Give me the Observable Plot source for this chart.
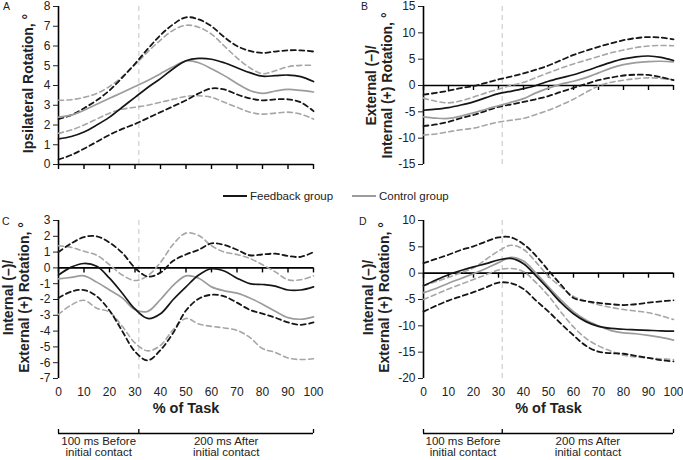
<!DOCTYPE html>
<html><head><meta charset="utf-8">
<script src="https://cdn.jsdelivr.net/npm/d3@7"></script>
<script src="https://cdn.jsdelivr.net/npm/@observablehq/plot@0.6"></script>
<style>
body{margin:0;background:#fff;}
#root{position:relative;width:683px;height:460px;font-family:"Liberation Sans",Arial,sans-serif;color:#222;overflow:hidden}
.pan{position:absolute}
.letter{position:absolute;font-size:10.5px;line-height:1}
.leg{position:absolute;top:189px;font-size:11.5px;display:flex;align-items:center;white-space:nowrap;line-height:14px}
.sw{display:inline-block;width:24px;height:0;border-top:2px solid;margin-right:3px}
</style></head><body><div id="root"></div>
<script>
// % of task sample positions
const pct = [0,5,10,15,20,25,30,35,40,45,50,55,60,65,70,75,80,85,90,95,100];
const xTicks = [0,10,20,30,40,50,60,70,80,90,100];
const contactPct = [31.5];
const phaseBounds = [0, 31.5, 100];
const phaseLabels = ["100 ms Before\ninitial contact", "200 ms After\ninitial contact"];
const groupNames = ["Feedback group", "Control group"];
const panelLetters = ["A", "B", "C", "D"];

// Panel A: Ipsilateral rotation
const aFeedMean  = [1.3,1.42,1.65,2.0,2.4,2.9,3.4,3.9,4.35,4.85,5.25,5.37,5.33,5.15,4.9,4.65,4.47,4.5,4.53,4.45,4.2];
const aFeedUpper = [2.3,2.5,2.85,3.25,3.75,4.4,5.1,5.85,6.55,7.1,7.45,7.35,7.0,6.45,6.0,5.75,5.65,5.72,5.78,5.78,5.72];
const aFeedLower = [0.25,0.48,0.8,1.15,1.5,1.8,2.05,2.35,2.65,2.95,3.25,3.6,3.85,3.8,3.55,3.35,3.25,3.3,3.3,3.15,2.7];
const aCtrlMean  = [2.4,2.5,2.75,3.05,3.35,3.65,3.95,4.25,4.6,4.95,5.25,5.15,4.85,4.5,4.1,3.75,3.6,3.72,3.8,3.75,3.67];
const aCtrlUpper = [3.25,3.28,3.4,3.6,3.95,4.45,5.05,5.7,6.3,6.8,7.05,6.95,6.6,6.0,5.4,4.9,4.6,4.75,4.95,5.02,5.02];
const aCtrlLower = [1.58,1.75,2.0,2.3,2.6,2.8,2.9,3.0,3.15,3.3,3.45,3.48,3.4,3.15,2.9,2.65,2.55,2.6,2.65,2.55,2.3];

// Panel B: External (-)/Internal (+) rotation
const bFeedMean  = [-4.7,-4.5,-4.2,-3.7,-3.1,-2.3,-1.55,-1.1,-0.6,0.0,0.8,1.45,2.05,2.8,3.6,4.4,5.05,5.45,5.6,5.35,4.75];
const bFeedUpper = [-1.75,-1.4,-1.0,-0.5,-0.1,0.5,1.15,1.7,2.3,3.0,3.8,4.8,5.8,6.6,7.35,8.0,8.6,9.0,9.2,9.1,8.75];
const bFeedLower = [-7.7,-7.4,-6.9,-6.2,-5.6,-4.8,-4.05,-3.6,-3.1,-2.6,-2.0,-1.2,-0.45,0.3,1.0,1.5,1.9,2.05,2.0,1.6,1.0];
const bCtrlMean  = [-5.95,-6.2,-6.25,-5.8,-5.2,-4.5,-3.85,-3.2,-2.5,-1.4,-0.5,0.25,0.8,1.5,2.4,3.3,3.95,4.35,4.55,4.6,4.5];
const bCtrlUpper = [-2.4,-3.0,-3.3,-2.9,-2.2,-1.4,-0.7,0.0,0.6,1.5,2.4,3.3,4.1,4.8,5.5,6.2,6.75,7.2,7.5,7.6,7.55];
const bCtrlLower = [-9.4,-9.2,-8.8,-8.4,-8.1,-7.5,-6.95,-6.6,-6.25,-5.5,-4.7,-3.7,-2.6,-1.3,-0.1,0.6,1.0,1.3,1.45,1.35,1.1];

// Panel C: Internal (-)/External (+) rotation
const cFeedMean  = [-0.45,0.05,0.28,0.1,-0.65,-1.6,-2.6,-3.2,-2.9,-2.0,-1.2,-0.45,-0.05,-0.2,-0.65,-1.0,-1.05,-1.15,-1.4,-1.4,-1.2];
const cFeedUpper = [1.0,1.55,1.95,2.0,1.6,0.95,0.0,-0.55,-0.3,0.45,0.85,1.15,1.55,1.45,1.15,0.8,0.85,0.9,0.75,0.7,1.0];
const cFeedLower = [-1.9,-1.5,-1.4,-1.8,-2.7,-4.0,-5.3,-5.85,-5.2,-4.1,-2.7,-1.95,-1.7,-1.8,-2.2,-2.65,-2.9,-3.15,-3.45,-3.6,-3.45];
const cCtrlMean  = [-0.7,-0.6,-0.5,-0.9,-1.4,-1.9,-2.65,-2.75,-2.0,-1.1,-0.5,-0.65,-1.2,-1.45,-1.6,-1.9,-2.3,-2.75,-3.15,-3.25,-3.1];
const cCtrlUpper = [1.4,1.3,1.05,0.8,0.2,-0.45,-0.8,-0.5,0.35,1.5,2.2,2.05,1.4,1.0,0.85,0.6,0.2,-0.25,-0.75,-0.75,-0.5];
const cCtrlLower = [-2.95,-2.35,-2.05,-2.55,-2.8,-3.7,-4.75,-5.25,-4.9,-3.9,-3.2,-3.55,-3.7,-3.8,-3.95,-4.4,-5.1,-5.35,-5.7,-5.8,-5.75];

// Panel D: Internal (-)/External (+) rotation
const dFeedMean  = [-2.4,-1.3,-0.3,0.5,1.2,1.8,2.5,2.8,1.8,-0.5,-3.0,-5.6,-7.7,-9.2,-10.1,-10.5,-10.65,-10.75,-10.85,-10.95,-11.0];
const dFeedUpper = [1.9,2.7,3.5,4.4,5.1,6.0,6.8,6.8,5.5,3.3,0.5,-2.2,-4.7,-5.3,-5.65,-5.9,-6.05,-5.9,-5.6,-5.35,-5.15];
const dFeedLower = [-7.3,-6.2,-5.2,-4.4,-3.6,-2.7,-1.8,-1.9,-3.0,-5.2,-7.3,-9.6,-11.8,-13.8,-14.9,-15.2,-15.3,-15.7,-16.1,-16.5,-16.75];
const dCtrlMean  = [-3.7,-2.9,-1.9,-1.0,-0.1,0.9,2.0,3.0,2.3,0.0,-2.6,-5.1,-7.3,-8.9,-10.0,-10.9,-11.35,-11.5,-11.8,-12.2,-12.7];
const dCtrlUpper = [-2.4,-1.6,-0.8,0.1,1.0,2.6,4.2,5.3,4.5,2.1,-0.6,-2.6,-4.4,-5.3,-6.0,-6.5,-6.9,-7.2,-7.5,-8.1,-8.8];
const dCtrlLower = [-5.0,-4.0,-3.0,-2.1,-1.2,-0.3,0.6,0.9,0.3,-1.8,-4.3,-7.4,-10.2,-12.4,-13.8,-14.8,-15.6,-15.9,-16.1,-16.25,-16.4];

// Axis ticks and titles
const aTicks = [0,1,2,3,4,5,6,7,8];
const bTicks = [-15,-10,-5,0,5,10,15];
const cTicks = [-7,-6,-5,-4,-3,-2,-1,0,1,2,3];
const dTicks = [-20,-15,-10,-5,0,5,10];
const aTitle = "Ipsilateral Rotation, °";
const bTitle = "External (–)/\nInternal (+) Rotation, °";
const cTitle = "Internal (–)/\nExternal (+) Rotation, °";
const dTitle = "Internal (–)/\nExternal (+) Rotation, °";
const xTitle = "% of Task";

const BLACK = "#161616", GRAY = "#9c9c9c", GRAYD = "#a6a6a6";
const FONT = "'Liberation Sans', Arial, sans-serif";
const TICK_PX = 5;

function series(arr) { return pct.map((p, i) => ({p, v: arr[i]})); }

function panel(o) {
  const lineOpts = {x: "p", y: "v", curve: "catmull-rom"};
  // tick length in pixels converted into y units of this panel
  const frameH = o.height - o.mt - o.mb;
  const tickLen = TICK_PX * (o.yDomain[1] - o.yDomain[0]) / frameH;
  const marks = [
    Plot.ruleX(contactPct, {stroke: "#cfcfcf", strokeWidth: 1.2, strokeDasharray: "5,4"}),
    Plot.ruleX(xTicks, {x: d => d, y1: 0, y2: -tickLen, stroke: "#000", strokeWidth: 1.4}),
    Plot.ruleY([0], {stroke: "#000", strokeWidth: 1.6}),
    Plot.ruleX([0], {stroke: "#000", strokeWidth: 1.6}),
    Plot.axisY({ticks: o.yTicks, tickSize: 5, tickPadding: 3, fontSize: 12, label: null, tickFormat: d => String(d)}),
    Plot.line(series(o.ctrl[1]), {...lineOpts, stroke: GRAYD, strokeWidth: 1.6, strokeDasharray: "5,3.5"}),
    Plot.line(series(o.ctrl[2]), {...lineOpts, stroke: GRAYD, strokeWidth: 1.6, strokeDasharray: "5,3.5"}),
    Plot.line(series(o.feed[1]), {...lineOpts, stroke: BLACK, strokeWidth: 1.8, strokeDasharray: "5,3.5"}),
    Plot.line(series(o.feed[2]), {...lineOpts, stroke: BLACK, strokeWidth: 1.8, strokeDasharray: "5,3.5"}),
    Plot.line(series(o.ctrl[0]), {...lineOpts, stroke: GRAY, strokeWidth: 1.7}),
    Plot.line(series(o.feed[0]), {...lineOpts, stroke: BLACK, strokeWidth: 1.7}),
    Plot.text([o.title], {text: d => d, frameAnchor: "left", textAnchor: "middle", lineAnchor: "middle",
      rotate: -90, dx: o.titleDx, dy: o.titleDy || 0, fontWeight: "bold", fontSize: 14, lineHeight: 1.15})
  ];
  if (o.showX) {
    marks.push(Plot.axisX({ticks: xTicks, tickSize: 0, tickPadding: 9, fontSize: 12, label: null, tickFormat: d => String(d)}));
    marks.push(Plot.text([xTitle], {text: d => d, frameAnchor: "bottom", dy: 34, fontWeight: "bold", fontSize: 14.5}));
  }
  return Plot.plot({
    width: o.width, height: o.height,
    marginLeft: o.ml, marginRight: o.mr, marginTop: o.mt, marginBottom: o.mb,
    style: {fontFamily: FONT, color: "#222", background: "transparent", overflow: "visible"},
    x: {domain: [0, 100], axis: o.showX ? undefined : null},
    y: {domain: o.yDomain},
    marks
  });
}

function bracket(o) {
  const phases = phaseLabels.map((t, i) => ({t, mid: (phaseBounds[i] + phaseBounds[i + 1]) / 2}));
  return Plot.plot({
    width: o.width, height: 36, marginLeft: o.ml, marginRight: o.mr, marginTop: 5, marginBottom: 27,
    style: {fontFamily: FONT, color: "#222", background: "transparent", overflow: "visible"},
    x: {domain: [0, 100], axis: null},
    y: {domain: [0, 1], axis: null},
    marks: [
      Plot.ruleY([0], {x1: phaseBounds[0], x2: phaseBounds[phaseBounds.length - 1], stroke: "#000", strokeWidth: 1.3}),
      Plot.ruleX(phaseBounds, {y1: 0, y2: 1, stroke: "#000", strokeWidth: 1.3}),
      Plot.text(phases, {x: "mid", y: 0, text: "t", dy: 3, lineAnchor: "top", fontSize: 11.5, lineHeight: 1.0})
    ]
  });
}

const root = document.getElementById("root");
function place(node, left, top) {
  node.classList.add("pan");
  node.style.left = left + "px";
  node.style.top = top + "px";
  root.appendChild(node);
}

place(panel({feed: [aFeedMean, aFeedUpper, aFeedLower], ctrl: [aCtrlMean, aCtrlUpper, aCtrlLower],
  yDomain: [0, 8], yTicks: aTicks, title: aTitle, titleDx: -30.5, titleDy: -2,
  width: 342, height: 172, ml: 58, mr: 29, mt: 6, mb: 8, showX: false}), 0, 0);
place(panel({feed: [bFeedMean, bFeedUpper, bFeedLower], ctrl: [bCtrlMean, bCtrlUpper, bCtrlLower],
  yDomain: [-15, 15], yTicks: bTicks, title: bTitle, titleDx: -45,
  width: 341, height: 172, ml: 81, mr: 10, mt: 6, mb: 8, showX: false}), 342, 0);
place(panel({feed: [cFeedMean, cFeedUpper, cFeedLower], ctrl: [cCtrlMean, cCtrlUpper, cCtrlLower],
  yDomain: [-7, 3], yTicks: cTicks, title: cTitle, titleDx: -43, titleDy: -2,
  width: 342, height: 215, ml: 58, mr: 29, mt: 10, mb: 47, showX: true}), 0, 210);
place(panel({feed: [dFeedMean, dFeedUpper, dFeedLower], ctrl: [dCtrlMean, dCtrlUpper, dCtrlLower],
  yDomain: [-20, 10], yTicks: dTicks, title: dTitle, titleDx: -47.5, titleDy: -2,
  width: 341, height: 215, ml: 81, mr: 10, mt: 10, mb: 47, showX: true}), 342, 210);
place(bracket({width: 342, ml: 58, mr: 29}), 0, 424);
place(bracket({width: 341, ml: 81, mr: 10}), 342, 424);

// Panel letters
[[3, 1], [361, 1], [2, 216], [359, 216]].forEach(([l, t], i) => {
  const d = document.createElement("div");
  d.className = "letter"; d.textContent = panelLetters[i];
  d.style.left = l + "px"; d.style.top = t + "px";
  root.appendChild(d);
});

// Legend
[[223, BLACK], [352, GRAY]].forEach(([l, c], i) => {
  const d = document.createElement("div");
  d.className = "leg"; d.style.left = l + "px";
  d.innerHTML = `<span class="sw" style="border-color:${c}"></span><span>${groupNames[i]}</span>`;
  root.appendChild(d);
});
</script></body></html>
